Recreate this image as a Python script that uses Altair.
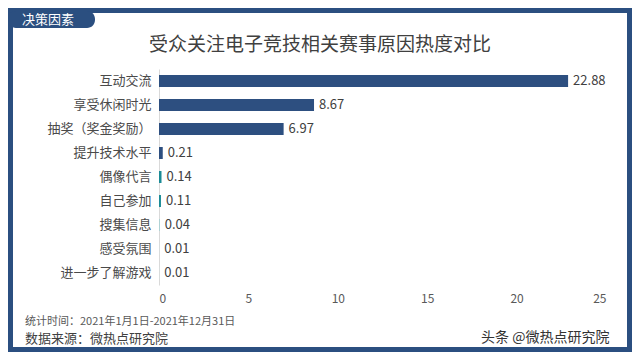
import altair as alt
import pandas as pd

categories = ["互动交流", "享受休闲时光", "抽奖（奖金奖励）", "提升技术水平", "偶像代言",
              "自己参加", "搜集信息", "感受氛围", "进一步了解游戏"]
values = [22.88, 8.67, 6.97, 0.21, 0.14, 0.11, 0.04, 0.01, 0.01]
value_labels = ["22.88", "8.67", "6.97", "0.21", "0.14", "0.11", "0.04", "0.01", "0.01"]
bar_colors = ["#2d4f80", "#2d4f80", "#2d4f80", "#2d4f80", "#1b8b96",
              "#1b8b96", "#9fd0d3", "#d6ecee", "#d6ecee"]
x_ticks = [0, 5, 10, 15, 20, 25]

title_text = "受众关注电子竞技相关赛事原因热度对比"
tab_text = "决策因素"
note_time = "统计时间：2021年1月1日-2021年12月31日"
note_src = "数据来源：微热点研究院"
watermark = "头条 @微热点研究院"

FONT = "Noto Sans CJK SC"
BLUE = "#2b4f80"

df = pd.DataFrame({"cat": categories, "val": values, "lab": value_labels, "col": bar_colors})

W, H = 447, 216

x_enc = alt.X("val:Q", scale=alt.Scale(domain=[0, 25], nice=False),
              axis=alt.Axis(values=x_ticks, title=None, grid=False, domain=False, ticks=False,
                            labelFont=FONT, labelFontSize=12, labelColor="#595959",
                            labelPadding=8, format="d"))
y_enc = alt.Y("cat:N", sort=categories, scale=alt.Scale(paddingInner=0.5, paddingOuter=0.25),
              axis=alt.Axis(title=None, ticks=False, domain=True, domainColor="#d9d9d9",
                            labelFont=FONT, labelFontSize=13, labelColor="#4a4a4a",
                            labelPadding=8))

bars = alt.Chart(df).mark_bar().encode(x=x_enc, y=y_enc, color=alt.Color("col:N", scale=None))
texts = alt.Chart(df).mark_text(align="left", baseline="middle", dx=5, font=FONT,
                                fontSize=13, color="#404040").encode(
    x="val:Q", y=alt.Y("cat:N", sort=categories), text="lab:N")

one = pd.DataFrame({"a": [0]})

frame = alt.Chart(one).mark_rect(fill=None, stroke=BLUE, strokeWidth=5).encode(
    x=alt.value(-148.5), x2=alt.value(470.5), y=alt.value(-58.5), y2=alt.value(280.5))

tab = alt.Chart(one).mark_rect(fill=BLUE, cornerRadius=8).encode(
    x=alt.value(-151), x2=alt.value(-64), y=alt.value(-58), y2=alt.value(-41))
tab_label = alt.Chart(one).mark_text(font=FONT, fontSize=13, color="white",
                                     align="center", baseline="middle").encode(
    x=alt.value(-111), y=alt.value(-49.5), text=alt.value(tab_text))

title = alt.Chart(one).mark_text(font=FONT, fontSize=19, color="#404040",
                                 align="center", baseline="middle").encode(
    x=alt.value(161), y=alt.value(-24), text=alt.value(title_text))

n1 = alt.Chart(one).mark_text(font=FONT, fontSize=11, color="#595959",
                              align="left", baseline="middle").encode(
    x=alt.value(-134), y=alt.value(253), text=alt.value(note_time))
n2 = alt.Chart(one).mark_text(font=FONT, fontSize=13, color="#404040",
                              align="left", baseline="middle").encode(
    x=alt.value(-134), y=alt.value(270), text=alt.value(note_src))
wm = alt.Chart(one).mark_text(font=FONT, fontSize=14, color="#333333",
                              align="left", baseline="middle").encode(
    x=alt.value(322), y=alt.value(269), text=alt.value(watermark))

chart = alt.layer(frame, tab, tab_label, title, bars, texts, n1, n2, wm).properties(
    width=W, height=H,
    autosize=alt.AutoSizeParams(type="none"),
    padding={"left": 151, "top": 61, "right": 26, "bottom": 67},
    background="white",
).configure_view(stroke=None)

chart.save("out.html", embed_options={"renderer": "svg", "actions": False})
